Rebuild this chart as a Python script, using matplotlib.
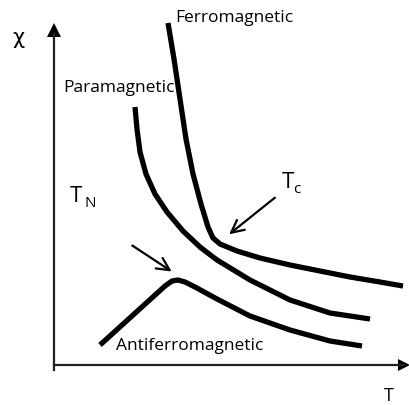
import numpy as np
import matplotlib.pyplot as plt

# curves in figure pixel units (x right, y down)
ferro_x = [168, 174, 180, 186, 193, 201, 208, 213, 220, 237, 260, 290, 320, 350, 380, 403]
ferro_y = [24, 60, 100, 140, 175, 205, 228, 239, 245, 252, 259, 266, 272, 278, 283, 287]

para_x = [135, 137, 140, 146, 155, 167, 183, 200, 217, 250, 290, 330, 370]
para_y = [108, 130, 153, 175, 195, 213, 232, 248, 261, 281, 301, 314, 320]

anti_x = [100, 165, 172, 178, 185, 195, 217, 250, 290, 330, 362]
anti_y = [346, 287, 282, 281, 283, 288, 300, 317, 331, 342, 347]

fig = plt.figure(figsize=(4.1, 4.06), dpi=100)
ax = fig.add_axes([0, 0, 1, 1])
ax.set_xlim(0, 410)
ax.set_ylim(406, 0)
ax.axis('off')

font = 'Open Sans'

# axes with arrow heads
ax.plot([54, 54], [371, 35], color='#222222', lw=1.6)
ax.plot([54, 404], [366, 366], color='#222222', lw=1.6)
ax.fill([54, 47, 61], [24, 38, 38], color='black', lw=0)
ax.fill([410, 398, 398], [366, 360, 372], color='black', lw=0)

for xs, ys in [(ferro_x, ferro_y), (para_x, para_y), (anti_x, anti_y)]:
    ax.plot(xs, ys, color='black', lw=3.8, solid_capstyle='butt', solid_joinstyle='round')

# pointer arrows
ax.annotate('', xy=(174, 274), xytext=(130, 245),
            arrowprops=dict(arrowstyle='->,head_length=0.9,head_width=0.45', lw=1.6, color='black'))
ax.annotate('', xy=(227, 237), xytext=(277, 197),
            arrowprops=dict(arrowstyle='->,head_length=0.9,head_width=0.45', lw=1.6, color='black'))

ax.text(12, 38, 'χ', fontsize=15, va='center', ha='left', family='DejaVu Sans')
ax.text(175, 18, 'Ferromagnetic', fontsize=12.5, va='center', ha='left', family=font)
ax.text(63, 88, 'Paramagnetic', fontsize=12.5, va='center', ha='left', family=font)
ax.text(116, 346, 'Antiferromagnetic', fontsize=12.5, va='center', ha='left', family=font)
ax.text(70, 202, 'T', fontsize=16, va='baseline', ha='left', family=font)
ax.text(85, 207, 'N', fontsize=11, va='baseline', ha='left', family=font)
ax.text(282, 188, 'T', fontsize=16, va='baseline', ha='left', family=font)
ax.text(293, 193, 'c', fontsize=11, va='baseline', ha='left', family=font)
ax.text(384, 405, 'T', fontsize=13, va='bottom', ha='left', family=font)

fig.savefig('out.png', dpi=100)
